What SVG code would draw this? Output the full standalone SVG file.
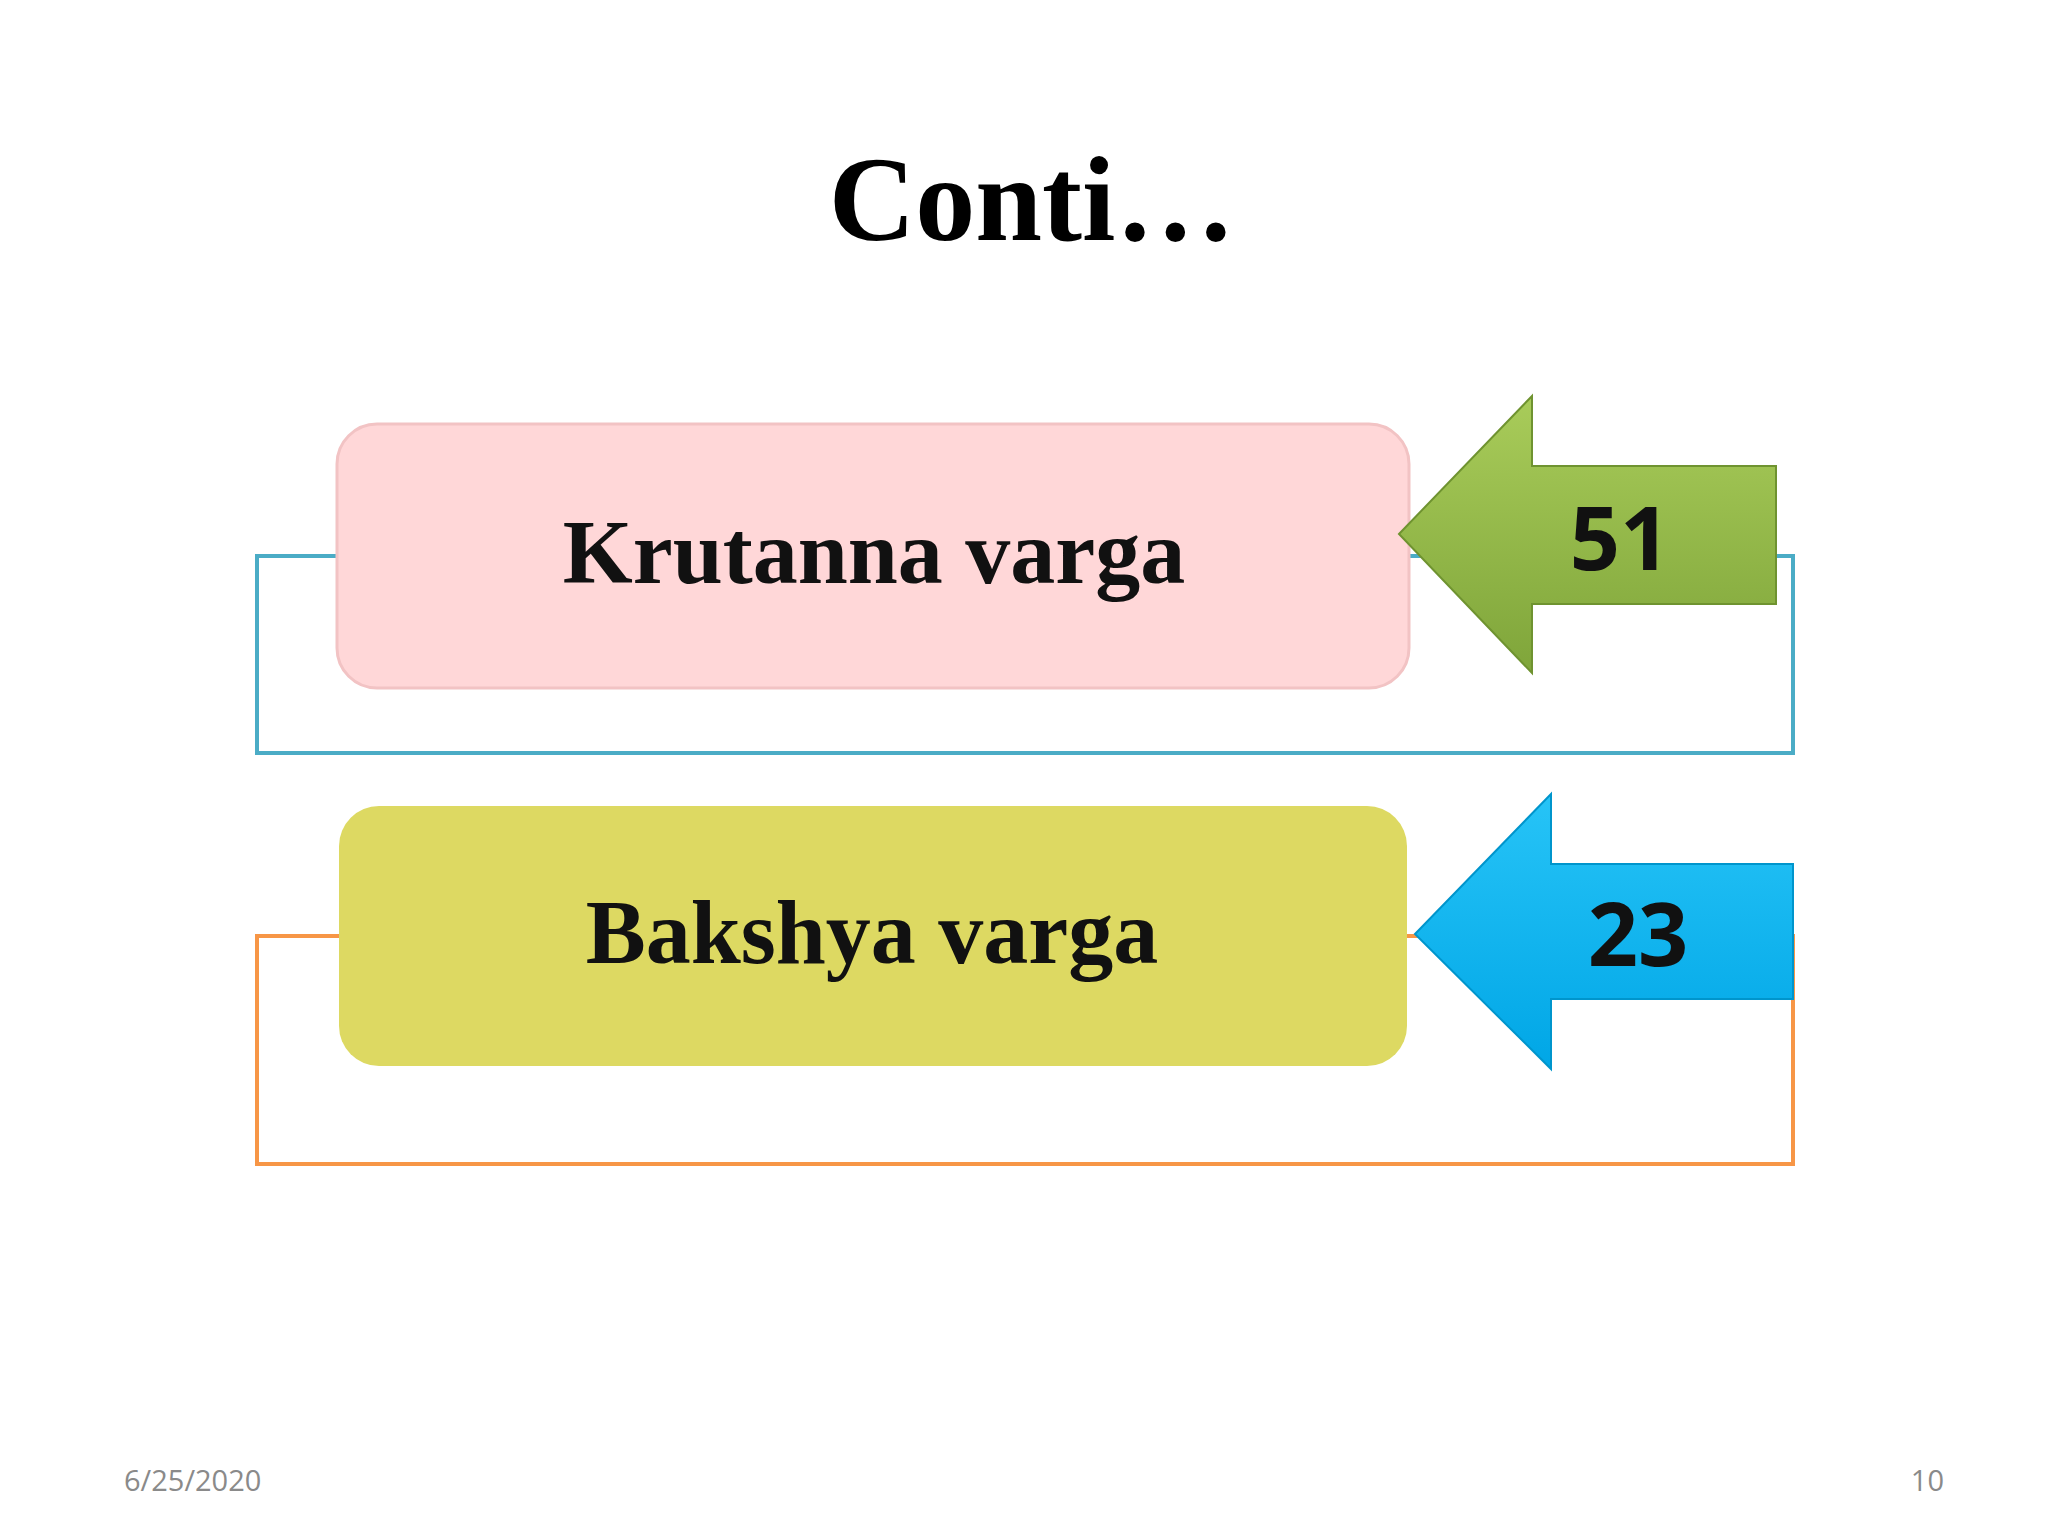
<svg xmlns="http://www.w3.org/2000/svg" width="2048" height="1536" viewBox="0 0 2048 1536">
<defs>
<style>
.lbl{font-family:"Liberation Serif",serif;font-weight:bold;font-size:90px;text-anchor:middle;fill:#111}
.num{font-family:"Open Sans","Liberation Sans",sans-serif;font-weight:bold;font-size:88px;text-anchor:middle;fill:#111}
.foot{font-family:"Open Sans","Liberation Sans",sans-serif;font-size:29px;fill:#8a8a8a}
</style>
<linearGradient id="g1" x1="0" y1="0" x2="0" y2="1"><stop offset="0" stop-color="#A9CC5A"/><stop offset="1" stop-color="#7FA53A"/></linearGradient>
<linearGradient id="g2" x1="0" y1="0" x2="0" y2="1"><stop offset="0" stop-color="#27C4F7"/><stop offset="1" stop-color="#00A6E6"/></linearGradient>
</defs>
<rect width="2048" height="1536" fill="#fff"/>
<text x="1032" y="240" font-family="Liberation Serif,serif" font-weight="bold" font-size="120" text-anchor="middle">Conti…</text>
<g id="frames">
<rect x="257" y="556" width="1536" height="197" fill="none" stroke="#4BACC6" stroke-width="4"/>
<rect x="257" y="936" width="1536" height="228" fill="none" stroke="#F79646" stroke-width="4"/>
</g>
<g id="n1">
<rect x="337" y="424" width="1072" height="264" rx="40" fill="#FFD7D8" stroke="#F2C3C4" stroke-width="3"/>
<text class="lbl" x="874" y="583">Krutanna varga</text>
</g>
<g id="a1">
<polygon points="1399,534 1532,396 1532,466 1776,466 1776,604 1532,604 1532,673" fill="url(#g1)" stroke="#6F9330" stroke-width="2"/>
<text class="num" x="1620" y="570">51</text>
</g>
<g id="n2">
<rect x="339" y="806" width="1068" height="260" rx="40" fill="#DDD962"/>
<text class="lbl" x="872" y="963">Bakshya varga</text>
</g>
<g id="a2">
<polygon points="1415,934 1551,794 1551,864 1793,864 1793,999 1551,999 1551,1069" fill="url(#g2)" stroke="#0095CC" stroke-width="2"/>
<text class="num" x="1638" y="966">23</text>
</g>
<text class="foot" x="124" y="1491">6/25/2020</text>
<text class="foot" x="1944" y="1491" text-anchor="end">10</text>
</svg>
